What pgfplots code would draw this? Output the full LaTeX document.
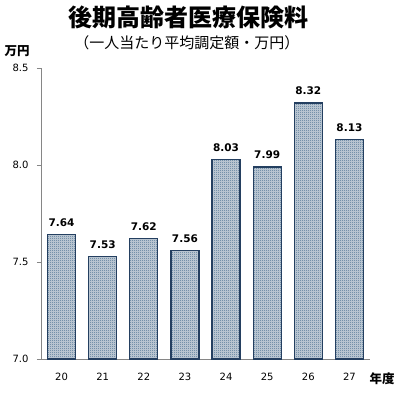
\documentclass[border=0pt]{standalone}
\usepackage{pgfplots}
\pgfplotsset{compat=1.18}
\usepackage{fontspec}
\setmainfont{DejaVu Sans}
\newfontfamily\cjk{Noto Sans CJK JP}
\usetikzlibrary{patterns}
\pgfdeclarepatternformonly{finecheck}{\pgfpointorigin}{\pgfpoint{2bp}{2bp}}{\pgfpoint{2bp}{2bp}}{%
  \pgfpathrectangle{\pgfpointorigin}{\pgfpoint{1bp}{1bp}}%
  \pgfpathrectangle{\pgfpoint{1bp}{1bp}}{\pgfpoint{1bp}{1bp}}%
  \pgfusepath{fill}}
\definecolor{barEdge}{HTML}{243F60}
\definecolor{dotCol}{HTML}{4A6F8F}
\definecolor{barFill}{HTML}{C8D1DA}
\definecolor{axGray}{HTML}{868686}
\begin{document}
\begin{tikzpicture}[x=1bp,y=1bp]
\useasboundingbox (-41,-36) rectangle (361,359);
\begin{axis}[
  at={(0,0)}, anchor=south west,
  scale only axis, width=329bp, height=291bp,
  xmin=-0.5, xmax=7.5, ymin=7.0, ymax=8.5,
  ytick={7.0,7.5,8.0,8.5},
  xtick=data,
  xticklabels={20,21,22,23,24,25,26,27},
  axis x line*=bottom, axis y line*=left,
  axis line style={axGray, line width=0.8bp},
  tick align=outside,
  major tick length=4bp,
  xtick style={draw=none},
  ytick style={axGray, line width=0.8bp},
  yticklabel style={/pgf/number format/fixed, /pgf/number format/fixed zerofill, /pgf/number format/precision=1, xshift=-5bp},
  /pgf/number format/assume math mode=true,
  tick label style={font=\fontsize{10bp}{12bp}\selectfont, black},
  xticklabel style={yshift=-7bp},
  ybar, bar width=28bp,
  nodes near coords,
  nodes near coords style={font=\bfseries\fontsize{10.5bp}{12bp}\selectfont, black, anchor=south, yshift=4bp,
    /pgf/number format/fixed, /pgf/number format/fixed zerofill, /pgf/number format/precision=2},
  clip=false,
]
\addplot[draw=barEdge, line width=1.2bp, fill=barFill, postaction={pattern=finecheck, pattern color=dotCol}]
  coordinates {(0,7.64) (1,7.53) (2,7.62) (3,7.56) (4,8.03) (5,7.99) (6,8.32) (7,8.13)};
\end{axis}
\node[font=\cjk\bfseries\fontsize{24bp}{26bp}\selectfont] at (148,342) {後期高齢者医療保険料};
\node[font=\cjk\fontsize{15bp}{17bp}\selectfont] at (146,316) {（一人当たり平均調定額・万円）};
\node[font=\cjk\bfseries\fontsize{12.5bp}{14bp}\selectfont] at (-24,308) {万円};
\node[font=\cjk\bfseries\fontsize{12.5bp}{14bp}\selectfont] at (341,-20) {年度};
\end{tikzpicture}
\end{document}
